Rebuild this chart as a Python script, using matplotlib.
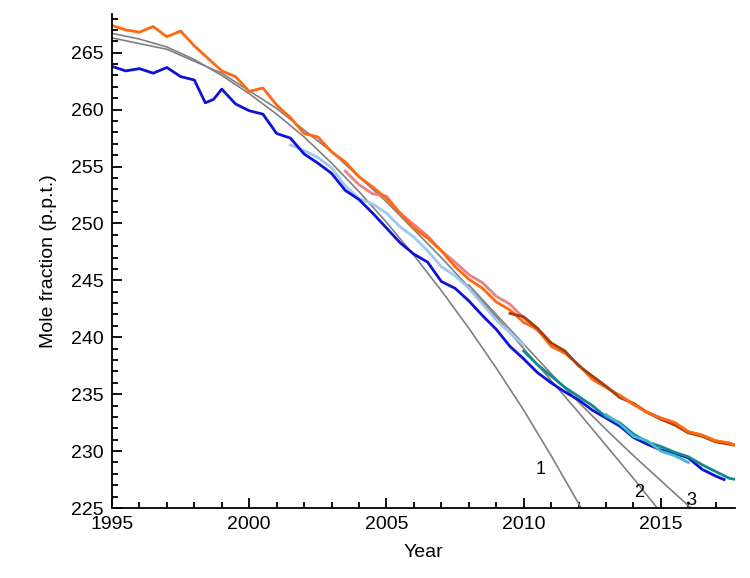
import numpy as np
import matplotlib
matplotlib.use("Agg")
import matplotlib.pyplot as plt
from matplotlib.ticker import MultipleLocator

plt.rcParams["font.family"] = "Liberation Sans"

orange_x = [1995,1995.5,1996,1996.5,1997,1997.5,1998,1998.5,1999,1999.5,2000,2000.5,2001,2001.5,2002,2002.5,2003,2003.5,2004,2004.5,2005,2005.5,2006,2006.5,2007,2007.5,2008,2008.5,2009,2009.5,2010,2010.5,2011,2011.5,2012,2012.5,2013,2013.5,2014,2014.5,2015,2015.5,2016,2016.5,2017,2017.5,2017.8]
orange_y = [267.4,267.0,266.8,267.3,266.4,266.9,265.6,264.5,263.4,262.9,261.6,261.9,260.4,259.3,257.9,257.6,256.3,255.4,254.1,253.2,252.2,250.9,249.6,248.7,247.6,246.2,245.1,244.3,243.1,242.4,241.3,240.7,239.2,238.6,237.6,236.3,235.6,234.9,234.1,233.4,232.9,232.5,231.7,231.4,230.9,230.7,230.4]

blue_x = [1995,1995.5,1996,1996.5,1997,1997.5,1998,1998.4,1998.7,1999,1999.5,2000,2000.5,2001,2001.5,2002,2002.5,2003,2003.5,2004,2004.5,2005,2005.5,2006,2006.5,2007,2007.5,2008,2008.5,2009,2009.5,2010,2010.5,2011,2011.5,2012,2012.5,2013,2013.5,2014,2014.5,2015,2015.5,2016,2016.5,2017,2017.3]
blue_y = [263.8,263.4,263.6,263.2,263.7,262.9,262.6,260.6,260.9,261.8,260.5,259.9,259.6,257.9,257.5,256.1,255.3,254.4,252.9,252.1,250.9,249.6,248.3,247.3,246.6,244.9,244.3,243.2,241.9,240.7,239.2,238.1,236.9,236.0,235.2,234.5,233.6,232.9,232.2,231.2,230.6,230.1,229.8,229.4,228.4,227.8,227.5]

lblue_x = [2001.5,2002,2002.5,2003,2003.5,2004,2004.5,2005,2005.5,2006,2006.5,2007,2007.5,2008,2008.5,2009,2009.5,2010]
lblue_y = [256.9,256.4,255.8,254.9,253.3,252.2,251.7,250.9,249.7,248.8,247.6,246.2,245.4,244.3,242.9,241.5,240.4,239.3]

pink_x = [2003.5,2004,2004.5,2005,2005.5,2006,2006.5,2007,2007.5,2008,2008.5,2009,2009.5,2010,2010.5,2011]
pink_y = [254.6,253.4,252.6,252.4,250.9,249.9,248.9,247.6,246.6,245.5,244.8,243.6,242.9,241.7,240.6,239.5]

brown_x = [2009.5,2010,2010.5,2011,2011.5,2012,2012.5,2013,2013.5,2014,2014.5,2015,2015.5,2016,2016.5,2017,2017.5,2018]
brown_y = [242.1,241.8,240.8,239.5,238.8,237.5,236.6,235.7,234.7,234.2,233.4,232.8,232.3,231.6,231.3,230.8,230.6,230.4]

teal_x = [2010,2010.5,2011,2011.5,2012,2012.5,2013,2013.5,2014,2014.5,2015,2015.5,2016,2016.5,2017,2017.5,2018]
teal_y = [238.8,237.6,236.6,235.6,234.8,234.0,233.0,232.5,231.5,230.8,230.4,229.9,229.5,228.8,228.2,227.6,227.4]

cyan_x = [2013,2013.5,2014,2014.5,2015,2015.5,2016]
cyan_y = [233.2,232.4,231.3,230.9,230.0,229.6,229.0]

fit1_x = [1995,1996,1997,1998,1999,2000,2001,2002,2003,2004,2005,2006,2007,2008,2009,2010,2011,2012,2013]
fit1_y = [266.7,266.2,265.5,264.4,263.0,261.4,259.6,257.6,255.3,252.8,250.1,247.2,244.1,240.8,237.3,233.6,229.6,225.4,221.0]
fit2_x = [1995,1997,1999,2001,2003,2005,2007,2008,2009,2010,2011,2012,2013,2014,2015,2016]
fit2_y = [266.3,265.3,263.2,260.1,256.3,251.9,247.0,244.4,241.8,239.0,236.2,233.4,230.5,227.6,224.6,221.6]
fit3_x = [2008,2009,2010,2011,2012,2013,2014,2015,2016,2017]
fit3_y = [244.6,242.0,239.4,236.8,234.3,231.9,229.6,227.4,225.2,223.1]

fig = plt.figure(figsize=(7.5, 5.78), dpi=100)
ax = fig.add_axes([112/750, 1-508/578, (735-112)/750, (508-14)/578])
lw = 2.0
g = "#808080"
for fx, fy in [(fit1_x, fit1_y), (fit2_x, fit2_y), (fit3_x, fit3_y)]:
    ax.plot(fx, fy, color=g, lw=1.2)
ax.plot(lblue_x, lblue_y, color="#9ccaf0", lw=lw)
ax.plot(pink_x, pink_y, color="#f08080", lw=lw)
ax.plot(blue_x, blue_y, color="#1010d8", lw=lw)
ax.plot(teal_x, teal_y, color="#108a8a", lw=lw)
ax.plot(cyan_x, cyan_y, color="#40b8c8", lw=lw)
ax.plot(orange_x, orange_y, color="#ff6a10", lw=lw)
ax.plot(brown_x, brown_y, color="#a04010", lw=lw)
ax.plot(orange_x[-10:], orange_y[-10:], color="#ff6a10", lw=lw)

ax.text(2010.6, 228.0, "1", fontsize=13, ha="center")
ax.text(2014.2, 226.0, "2", fontsize=13, ha="center")
ax.text(2016.1, 225.3, "3", fontsize=13, ha="center")

ax.set_xlim(1995, 2017.7)
ax.set_ylim(225, 268.4)
ax.xaxis.set_major_locator(MultipleLocator(5))
ax.xaxis.set_minor_locator(MultipleLocator(1))
ax.yaxis.set_major_locator(MultipleLocator(5))
ax.yaxis.set_minor_locator(MultipleLocator(1))
ax.tick_params(which="both", direction="in", labelsize=14, width=1.3)
ax.tick_params(which="major", length=7, pad=6)
ax.tick_params(which="minor", length=4)
for s in ["top", "right"]:
    ax.spines[s].set_visible(False)
for s in ["left", "bottom"]:
    ax.spines[s].set_linewidth(1.3)
ax.set_xlabel("Year", fontsize=14, labelpad=8)
ax.set_ylabel("Mole fraction (p.p.t.)", fontsize=14, labelpad=10)
fig.savefig("out.png", dpi=100)
